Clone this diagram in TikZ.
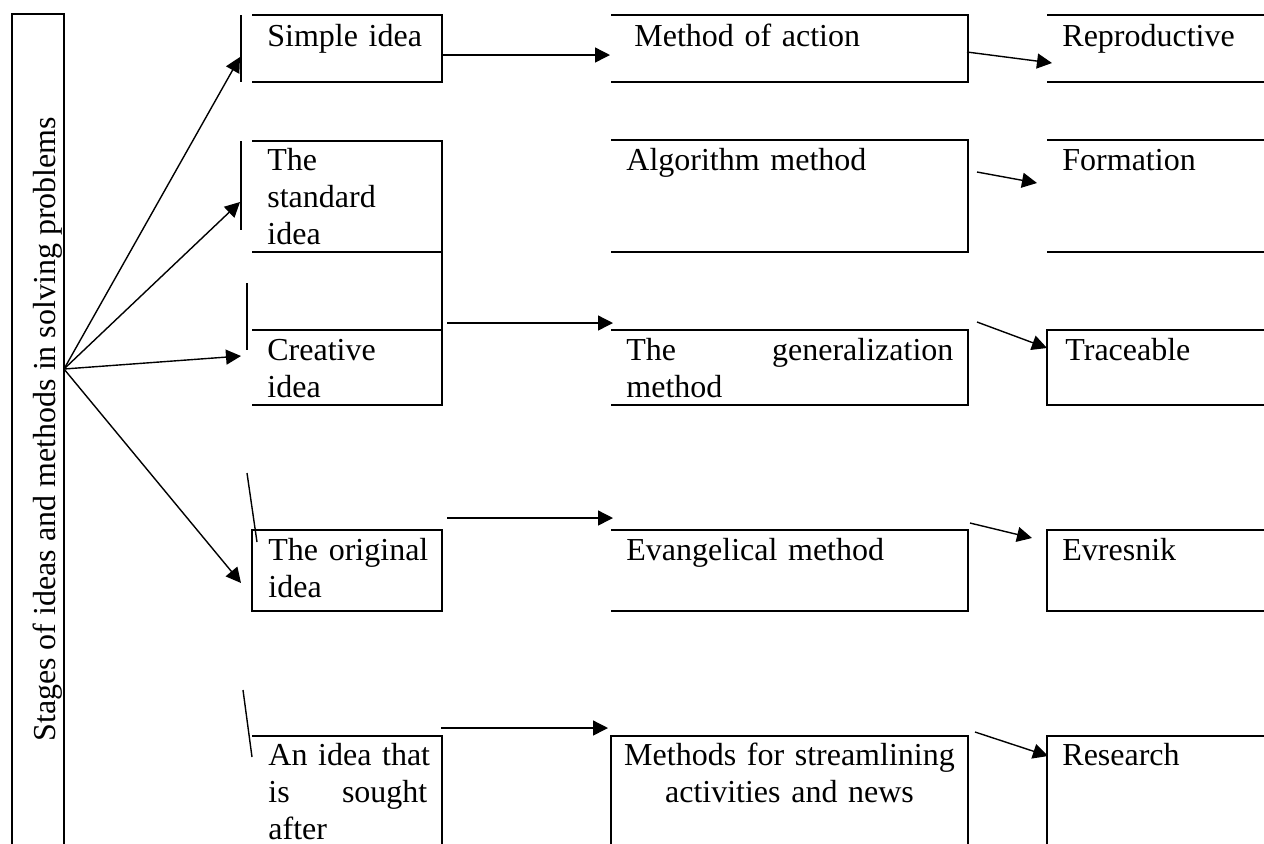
\documentclass[tikz,border=0pt]{standalone}
\usepackage{fontspec}
\setmainfont{Liberation Serif}
\usetikzlibrary{arrows.meta}
\begin{document}
\begin{tikzpicture}[x=0.5pt,y=-0.5pt,
  boxline/.style={line width=0.9pt},
  tick/.style={line width=0.7pt},
  arr/.style={line width=0.7pt,-{Triangle[length=7.5pt,width=7.5pt]}},
  lbl/.style={font=\fontsize{16}{18.5}\selectfont, inner sep=0pt, anchor=base west, text width=#1, align=left},
  lbl/.default=92pt]
\useasboundingbox (0,0) rectangle (1264,843);
\fill[white] (0,0) rectangle (1264,843);
\clip (0,0) rectangle (1264,843);

% left tall box
\draw[boxline] (12,850) -- (12,14) -- (64,14) -- (64,850);
\node[font=\fontsize{16}{18.5}\selectfont, inner sep=0pt, rotate=90, anchor=base west] (title) at (55,742) {Stages of ideas and methods in solving problems};

% column 1 boxes
\draw[boxline] (252,15) -- (442,15) -- (442,82) -- (252,82);
\draw[tick] (241,15) -- (241,82);
\draw[boxline] (252,141) -- (442,141) -- (442,405) -- (252,405);
\draw[boxline] (252,252) -- (442,252);
\draw[boxline] (252,330) -- (442,330);
\draw[tick] (241,141) -- (241,230);
\draw[tick] (247,283) -- (247,350);
\draw[boxline] (252,530) rectangle (442,611);
\draw[tick] (247,473) -- (257,542);
\draw[boxline] (252,736) -- (442,736) -- (442,850);
\draw[tick] (243,690) -- (252,757);

\node[lbl] (s1) at (267,46) {Simple idea};
\node[lbl] (s2) at (267,170) {The\\standard\\idea};
\node[lbl] (s3) at (267,360) {Creative\\idea};
\node[lbl] (s4) at (268,560) {The original\\idea};
\node[lbl] (s5) at (268,765) {An idea that\\\makebox[79.5pt][l]{is\hfill sought}\\after};

% column 2 boxes
\draw[boxline] (611,15) -- (968,15) -- (968,82) -- (611,82);
\draw[boxline] (611,140) -- (968,140) -- (968,252) -- (611,252);
\draw[boxline] (611,330) -- (968,330) -- (968,405) -- (611,405);
\draw[boxline] (611,530) -- (968,530) -- (968,611) -- (611,611);
\draw[boxline] (611,850) -- (611,736) -- (968,736) -- (968,850);

\node[lbl=175pt] (m1) at (634,46) {Method of action};
\node[lbl=175pt] (m2) at (626,170) {Algorithm method};
\node[lbl=175pt] (m3) at (626,360) {\makebox[163.5pt][l]{The\hfill generalization}\\method};
\node[lbl=175pt] (m4) at (626,560) {Evangelical method};
\node[lbl=175pt, anchor=base, align=center] (m5) at (789.5,765) {Methods for streamlining\\activities and news};

% column 3 boxes
\draw[boxline] (1047,15) -- (1270,15);
\draw[boxline] (1047,82) -- (1270,82);
\draw[boxline] (1047,140) -- (1270,140);
\draw[boxline] (1047,252) -- (1270,252);
\draw[boxline] (1270,330) -- (1047,330) -- (1047,405) -- (1270,405);
\draw[boxline] (1270,530) -- (1047,530) -- (1047,611) -- (1270,611);
\draw[boxline] (1047,850) -- (1047,736) -- (1270,736);

\node[lbl] (r1) at (1062,46) {Reproductive};
\node[lbl] (r2) at (1062,170) {Formation};
\node[lbl] (r3) at (1065,360) {Traceable};
\node[lbl] (r4) at (1062,560) {Evresnik};
\node[lbl] (r5) at (1062,765) {Research};

% connector end points
\coordinate (o) at (64,369);
\coordinate (f1) at (240,57);
\coordinate (f2) at (240,202);
\coordinate (f3) at (241,356);
\coordinate (f4) at (241,583);
\coordinate (a1s) at (442,55);  \coordinate (a1e) at (610,55);
\coordinate (a2s) at (447,323); \coordinate (a2e) at (613,323);
\coordinate (a3s) at (447,518); \coordinate (a3e) at (613,518);
\coordinate (a4s) at (441,728); \coordinate (a4e) at (608,728);
\coordinate (b1s) at (967,52);  \coordinate (b1e) at (1052,63);
\coordinate (b2s) at (977,172); \coordinate (b2e) at (1037,183);
\coordinate (b3s) at (977,322); \coordinate (b3e) at (1047,348);
\coordinate (b4s) at (970,523); \coordinate (b4e) at (1032,538);
\coordinate (b5s) at (975,732); \coordinate (b5e) at (1048,756);

\draw[arr] (o) -- (f1);
\draw[arr] (o) -- (f2);
\draw[arr] (o) -- (f3);
\draw[arr] (o) -- (f4);
\draw[arr] (a1s) -- (a1e);
\draw[arr] (a2s) -- (a2e);
\draw[arr] (a3s) -- (a3e);
\draw[arr] (a4s) -- (a4e);
\draw[arr] (b1s) -- (b1e);
\draw[arr] (b2s) -- (b2e);
\draw[arr] (b3s) -- (b3e);
\draw[arr] (b4s) -- (b4e);
\draw[arr] (b5s) -- (b5e);
\end{tikzpicture}
\end{document}
